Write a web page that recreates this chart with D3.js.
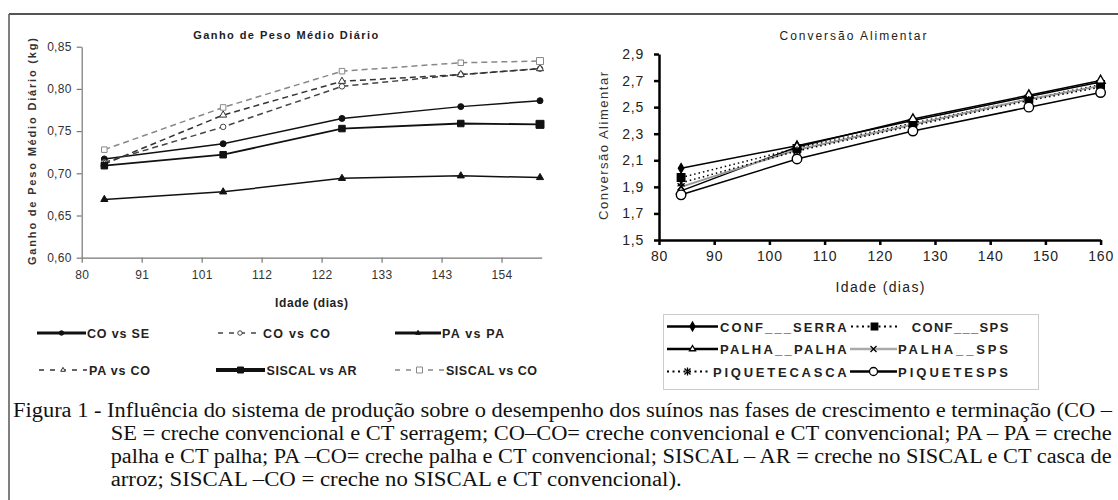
<!DOCTYPE html>
<html><head><meta charset="utf-8">
<script src="https://cdn.jsdelivr.net/npm/d3@7"></script>
<style>body{margin:0;background:#fff}svg{display:block}</style>
</head><body>
<svg id="c" width="1118" height="500"></svg>
<script>
// ---------- DATA ----------
const leftDays = [84, 105, 126, 147, 161];
const leftSeriesNames = ["CO vs SE", "CO vs CO", "PA vs PA", "PA vs CO", "SISCAL vs AR", "SISCAL vs CO"];
const coVsSe     = [0.717, 0.735, 0.765, 0.779, 0.786];
const coVsCo     = [0.713, 0.755, 0.803, 0.817, 0.824];
const paVsPa     = [0.669, 0.678, 0.694, 0.697, 0.695];
const paVsCo     = [0.711, 0.769, 0.809, 0.817, 0.824];
const siscalVsAr = [0.709, 0.722, 0.753, 0.759, 0.758];
const siscalVsCo = [0.728, 0.778, 0.821, 0.831, 0.833];
const leftYTicks = [0.60, 0.65, 0.70, 0.75, 0.80, 0.85];
const leftXTickValues = [80, 90.6, 101.2, 111.8, 122.4, 133, 143.6, 154.2];
const leftXTickLabels = ["80", "91", "101", "112", "122", "133", "143", "154"];

const rightDays = [84, 105, 126, 147, 160];
const rightSeriesNames = ["CONF___SERRA", "CONF___SPS", "PALHA__PALHA", "PALHA__SPS", "PIQUETECASCA", "PIQUETESPS"];
const confSerra    = [2.04, 2.21, 2.40, 2.58, 2.69];
const confSps      = [1.97, 2.19, 2.38, 2.56, 2.67];
const palhaPalha   = [1.87, 2.20, 2.41, 2.59, 2.70];
const palhaSps     = [1.90, 2.18, 2.37, 2.56, 2.66];
const piqueteCasca = [1.93, 2.17, 2.36, 2.55, 2.65];
const piqueteSps   = [1.84, 2.11, 2.32, 2.50, 2.61];
const rightYTicks = [1.5, 1.7, 1.9, 2.1, 2.3, 2.5, 2.7, 2.9];
const rightXTicks = [80, 90, 100, 110, 120, 130, 140, 150, 160];

const captionLines = [
  "Figura 1 - Influência do sistema de produção sobre o desempenho dos suínos nas fases de crescimento e terminação (CO –",
  "SE = creche convencional e CT serragem; CO–CO= creche convencional e CT convencional; PA – PA = creche",
  "palha e CT palha; PA –CO= creche palha e CT convencional; SISCAL – AR = creche no SISCAL e CT casca de",
  "arroz; SISCAL –CO = creche no SISCAL e CT convencional)."
];

// ---------- SETUP ----------
const svg = d3.select("#c");
const SANS = "'Liberation Sans', Arial, sans-serif";
const SERIF = "'Liberation Serif', 'Times New Roman', serif";
const loc = d3.formatLocale({decimal: ",", thousands: ".", grouping: [3], currency: ["", ""]});
const f2 = loc.format(".2f"), f1 = loc.format(".1f");

// frame
svg.append("line").attr("x1", 9).attr("x2", 1118).attr("y1", 14).attr("y2", 14).attr("stroke", "#555").attr("stroke-width", 2);
svg.append("line").attr("x1", 9).attr("x2", 9).attr("y1", 14).attr("y2", 500).attr("stroke", "#555").attr("stroke-width", 1.5);

function marker(g, type, x, y, opt) {
  const s = opt.size;
  const fill = opt.fill, stroke = opt.stroke || "#000", sw = opt.sw || 1;
  if (type === "x" || type === "asterisk") {
    const h = s / 2;
    const p = `M${x-h},${y-h}L${x+h},${y+h}M${x-h},${y+h}L${x+h},${y-h}` + (type === "asterisk" ? `M${x},${y-h-1}L${x},${y+h+1}` : "");
    g.append("path").attr("d", p).attr("stroke", stroke).attr("stroke-width", sw).attr("fill", "none");
    return;
  }
  const sym = {circle: d3.symbolCircle, square: d3.symbolSquare, triangle: d3.symbolTriangle, diamond: d3.symbolDiamond}[type];
  g.append("path").attr("d", d3.symbol(sym, s * s * (type === "circle" ? 0.785 : type === "triangle" ? 0.45 : type === "diamond" ? 0.6 : 1))())
    .attr("transform", `translate(${x},${y})`).attr("fill", fill).attr("stroke", stroke).attr("stroke-width", sw);
}

function label(text, x, y, size, weight, len, anchor, rot, color) {
  const t = svg.append("text").text(text).attr("font-family", SANS).attr("font-size", size)
    .attr("font-weight", weight).attr("fill", color || "#222").attr("text-anchor", anchor || "middle");
  if (len) t.attr("textLength", len).attr("lengthAdjust", "spacing");
  if (rot) t.attr("transform", `translate(${x},${y}) rotate(-90)`); else t.attr("x", x).attr("y", y);
  return t;
}

// ---------- LEFT CHART ----------
const xL = d3.scaleLinear([80, 161.3], [81.7, 541.7]);
const yL = d3.scaleLinear([0.60, 0.85], [257.7, 46.7]);
const gL = svg.append("g");

const axL = gL.append("g").attr("transform", "translate(81.7,0)")
  .call(d3.axisLeft(yL).tickValues(leftYTicks).tickFormat(f2).tickSize(5).tickSizeOuter(0).tickPadding(5));
const axB = gL.append("g").attr("transform", "translate(0,257.7)")
  .call(d3.axisBottom(xL).tickValues(leftXTickValues).tickFormat((d, i) => leftXTickLabels[i]).tickSize(5).tickSizeOuter(0).tickPadding(8));
[axL, axB].forEach(a => {
  a.selectAll("path,line").attr("stroke", "#777").attr("stroke-width", 1.2);
  a.selectAll("text").attr("font-family", SANS).attr("font-size", 12).attr("fill", "#333").attr("letter-spacing", 0.3);
});

const leftSeries = [
  {v: coVsSe,     color: "#111", w: 1.5, dash: null,  m: "circle",   mfill: "#111", ms: 6},
  {v: coVsCo,     color: "#444", w: 1.5, dash: "6,4", m: "circle",   mfill: "#fff", ms: 5.5},
  {v: paVsPa,     color: "#111", w: 1.5, dash: null,  m: "triangle", mfill: "#111", ms: 7},
  {v: paVsCo,     color: "#333", w: 1.5, dash: "6,4", m: "triangle", mfill: "#fff", ms: 7},
  {v: siscalVsAr, color: "#111", w: 1.8, dash: null,  m: "square",   mfill: "#111", ms: 6.5},
  {v: siscalVsCo, color: "#888", w: 1.5, dash: "6,4", m: "square",   mfill: "#fff", ms: 5.5}
];
const lineL = d3.line().x((d, i) => xL(leftDays[i])).y(d => yL(d));
leftSeries.forEach(s => {
  gL.append("path").attr("d", lineL(s.v)).attr("fill", "none").attr("stroke", s.color)
    .attr("stroke-width", s.w).attr("stroke-dasharray", s.dash);
});
leftSeries.forEach(s => {
  s.v.forEach((d, i) => marker(gL, s.m, xL(leftDays[i]), yL(d),
    {size: s.ms + (i === 4 && s.m === "square" ? 1.5 : 0), fill: s.mfill, stroke: s.mfill === "#fff" ? s.color : "#111", sw: 1}));
});

label("Ganho de Peso Médio Diário", 285.7, 38.5, 11, "bold", 185);
label("Ganho de Peso Médio Diário (kg)", 36, 151.5, 11, "bold", 227, "middle", true, "#333");
label("Idade (dias)", 311.6, 307, 12, "bold", 73);

// left legend
const leftLegendLayout = [
  {x0: 37, x1: 86, y: 333, lx: 87, len: 62},
  {x0: 218, x1: 262, y: 333, lx: 263, len: 67},
  {x0: 395, x1: 441, y: 333, lx: 442, len: 62},
  {x0: 39, x1: 87, y: 370, lx: 89, len: 61},
  {x0: 216, x1: 265, y: 370, lx: 266.5, len: 90},
  {x0: 395, x1: 444, y: 370, lx: 446, len: 91}
];
leftSeriesNames.forEach((name, i) => {
  const L = leftLegendLayout[i], s = leftSeries[i];
  const solid = !s.dash;
  svg.append("line").attr("x1", L.x0).attr("x2", L.x1).attr("y1", L.y).attr("y2", L.y)
    .attr("stroke", solid ? "#111" : s.color).attr("stroke-width", solid ? (s.m === "square" ? 4 : 3) : 1.5)
    .attr("stroke-dasharray", solid ? null : "5,6");
  marker(svg, s.m, (L.x0 + L.x1) / 2, L.y, {size: s.m === "square" ? 6 : 4.5, fill: s.mfill, stroke: s.mfill === "#fff" ? s.color : "#111", sw: 1});
  label(name, L.lx, L.y + 4.5, 12.5, "bold", L.len, "start");
});

// ---------- RIGHT CHART ----------
const xR = d3.scaleLinear([80, 160], [659, 1100.6]);
const yR = d3.scaleLinear([1.5, 2.9], [240, 54]);
const gR = svg.append("g");
const axRL = gR.append("g").attr("transform", "translate(659,0)")
  .call(d3.axisLeft(yR).tickValues(rightYTicks).tickFormat(f1).tickSize(5).tickSizeOuter(0).tickPadding(10));
const axRB = gR.append("g").attr("transform", "translate(0,240)")
  .call(d3.axisBottom(xR).tickValues(rightXTicks).tickFormat(d3.format("d")).tickSize(5).tickSizeOuter(0).tickPadding(6));
[axRL, axRB].forEach(a => {
  a.selectAll("path,line").attr("stroke", "#000").attr("stroke-width", 2.5);
  a.selectAll("text").attr("font-family", SANS).attr("font-size", 14).attr("fill", "#222").attr("letter-spacing", 0.8);
});

const rightSeries = [
  {v: confSerra,    color: "#000", w: 1.5, dash: null,  m: "diamond",  mfill: "#000", ms: 6.5},
  {v: confSps,      color: "#000", w: 1.5, dash: "1.5,3", m: "square", mfill: "#000", ms: 7.5},
  {v: palhaPalha,   color: "#000", w: 1.5, dash: null,  m: "triangle", mfill: "#fff", ms: 9},
  {v: palhaSps,     color: "#999", w: 2,   dash: null,  m: "x",        mfill: "none", ms: 7},
  {v: piqueteCasca, color: "#000", w: 1.5, dash: "1.5,3", m: "asterisk", mfill: "none", ms: 7},
  {v: piqueteSps,   color: "#000", w: 1.5, dash: null,  m: "circle",   mfill: "#fff", ms: 9.5}
];
const lineR = d3.line().x((d, i) => xR(rightDays[i])).y(d => yR(d));
rightSeries.forEach(s => {
  gR.append("path").attr("d", lineR(s.v)).attr("fill", "none").attr("stroke", s.color)
    .attr("stroke-width", s.w).attr("stroke-dasharray", s.dash);
});
rightSeries.forEach(s => {
  s.v.forEach((d, i) => marker(gR, s.m, xR(rightDays[i]), yR(d), {size: s.ms, fill: s.mfill, stroke: "#000", sw: 1.4}));
});

label("Conversão Alimentar", 853, 39.5, 12, "normal", 147);
label("Conversão Alimentar", 608, 146, 13, "normal", 148, "middle", true, "#333");
label("Idade (dias)", 880, 291.5, 14, "normal", 89);

// right legend
svg.append("rect").attr("x", 663.5).attr("y", 314.5).attr("width", 375).attr("height", 75)
  .attr("fill", "#fff").attr("stroke", "#ccc").attr("stroke-width", 1);
const rightLegendLayout = [
  {x0: 667, x1: 718, y: 326.5, lx: 720, len: 126.7},
  {x0: 851, x1: 898, y: 326.5, lx: 911.7, len: 96.6},
  {x0: 667, x1: 718, y: 349, lx: 720, len: 126.7},
  {x0: 850, x1: 897, y: 349, lx: 898, len: 110},
  {x0: 667, x1: 708, y: 371.5, lx: 713, len: 133.7},
  {x0: 850, x1: 897, y: 371.5, lx: 898, len: 110}
];
rightSeriesNames.forEach((name, i) => {
  const L = rightLegendLayout[i], s = rightSeries[i];
  const dotted = !!s.dash;
  svg.append("line").attr("x1", L.x0).attr("x2", L.x1).attr("y1", L.y).attr("y2", L.y)
    .attr("stroke", s.color === "#999" ? "#aaa" : "#000").attr("stroke-width", dotted ? 2 : 2.5)
    .attr("stroke-dasharray", dotted ? "2,3.5" : null);
  marker(svg, s.m, (L.x0 + L.x1) / 2, L.y, {size: s.m === "circle" ? 8 : s.m === "square" ? 6.5 : 6, fill: s.mfill, stroke: "#000", sw: 1.3});
  label(name, L.lx, L.y + 5, 13, "bold", L.len, "start");
});

// ---------- CAPTION ----------
const capLayout = [
  {x: 13, y: 417, len: 1099},
  {x: 110.7, y: 440, len: 1001},
  {x: 110.7, y: 463, len: 1001},
  {x: 110.7, y: 486, len: 571}
];
captionLines.forEach((t, i) => {
  svg.append("text").text(t).attr("x", capLayout[i].x).attr("y", capLayout[i].y)
    .attr("font-family", SERIF).attr("font-size", 20).attr("fill", "#111")
    .attr("textLength", capLayout[i].len).attr("lengthAdjust", "spacingAndGlyphs");
});
</script>
</body></html>
